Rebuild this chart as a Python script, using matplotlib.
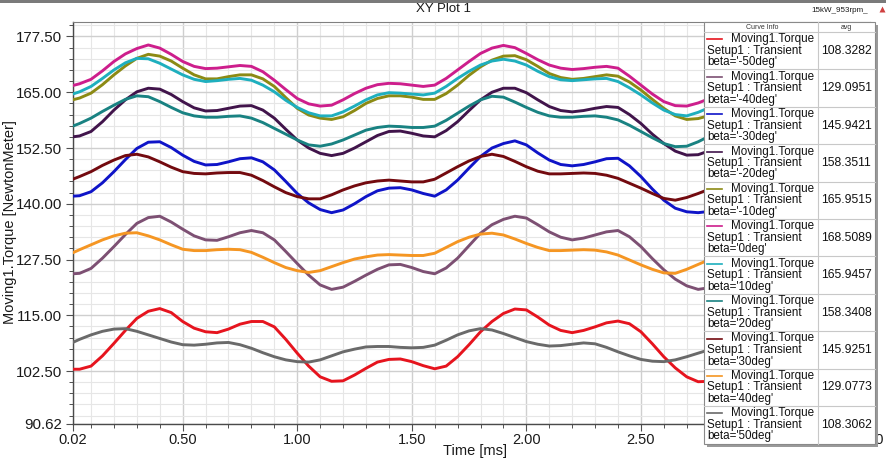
import matplotlib
matplotlib.use("Agg")
import matplotlib.pyplot as plt
from matplotlib.patches import Rectangle
from matplotlib.ticker import MultipleLocator

plt.rcParams['font.family'] = ['Liberation Sans', 'DejaVu Sans']

# ---------------- data ----------------
time_ms = [0.02, 0.05, 0.10, 0.15, 0.20, 0.25, 0.30, 0.35, 0.40, 0.45,
           0.50, 0.55, 0.60, 0.65, 0.70, 0.75, 0.80, 0.85, 0.90, 0.95,
           1.00, 1.05, 1.10, 1.15, 1.20, 1.25, 1.30, 1.35, 1.40, 1.45,
           1.50, 1.55, 1.60, 1.65, 1.70, 1.75, 1.80, 1.85, 1.90, 1.95,
           2.00, 2.05, 2.10, 2.15, 2.20, 2.25, 2.30, 2.35, 2.40, 2.45,
           2.50, 2.55, 2.60, 2.65, 2.70, 2.75, 2.80]

torque_m50 = [102.9, 102.9, 103.6, 105.9, 108.7, 111.6, 114.3, 115.9, 116.5, 115.6,
              113.6, 112.1, 111.3, 111.1, 111.9, 113.0, 113.6, 113.6, 112.4, 109.6,
              106.5, 103.6, 101.2, 100.2, 100.3, 101.6, 103.1, 104.5, 105.1, 105.2,
              104.6, 103.7, 103.0, 103.6, 105.7, 108.4, 111.3, 113.6, 115.4, 116.4,
              116.2, 114.6, 112.8, 111.6, 111.1, 111.6, 112.4, 113.3, 113.7, 113.1,
              111.3, 108.6, 105.7, 103.2, 101.2, 100.1, 100.2]
torque_m40 = [124.3, 124.4, 125.5, 127.8, 130.4, 133.1, 135.6, 136.9, 137.2, 135.9,
              134.3, 132.8, 131.9, 131.8, 132.6, 133.5, 134.0, 133.5, 131.9, 129.3,
              126.6, 124.0, 121.8, 120.8, 121.3, 122.6, 124.0, 125.3, 126.3, 126.4,
              125.7, 124.8, 124.3, 125.6, 127.8, 130.6, 133.4, 135.3, 136.5, 137.2,
              136.8, 135.3, 133.7, 132.5, 131.9, 132.3, 133.0, 133.7, 134.0, 132.6,
              130.4, 127.7, 125.2, 123.1, 121.6, 120.8, 121.2]
torque_m30 = [141.7, 141.8, 142.7, 144.7, 147.2, 149.9, 152.4, 153.8, 153.9, 152.6,
              150.9, 149.5, 148.7, 148.8, 149.4, 150.1, 150.3, 149.4, 147.6, 145.0,
              142.3, 140.2, 138.7, 138.0, 138.6, 140.0, 141.6, 142.9, 143.5, 143.6,
              143.1, 142.3, 141.7, 143.1, 145.3, 148.0, 150.6, 152.5, 153.5, 154.1,
              153.2, 151.4, 149.8, 148.8, 148.5, 148.8, 149.4, 150.1, 150.2, 148.5,
              146.1, 143.3, 140.8, 139.0, 138.2, 138.0, 138.3]
torque_m20 = [155.0, 155.2, 156.2, 158.4, 161.0, 163.3, 165.1, 165.9, 165.7, 164.5,
              162.9, 161.5, 160.8, 160.9, 161.4, 161.9, 162.0, 161.0, 159.2, 156.7,
              154.3, 152.5, 151.3, 150.8, 151.3, 152.5, 153.9, 155.3, 156.2, 156.3,
              155.8, 155.2, 155.0, 156.4, 158.4, 160.9, 163.3, 165.0, 165.9, 165.9,
              164.9, 163.3, 161.8, 160.9, 160.6, 160.9, 161.4, 161.8, 161.6, 160.0,
              158.0, 155.6, 153.5, 151.8, 150.9, 151.0, 151.9]
torque_m10 = [163.3, 163.7, 164.8, 166.7, 168.9, 170.9, 172.6, 173.5, 173.1, 172.0,
              170.4, 168.9, 168.0, 168.0, 168.5, 168.9, 168.9, 168.0, 166.3, 163.8,
              161.4, 159.9, 159.2, 158.9, 159.5, 160.9, 162.5, 163.6, 164.2, 164.2,
              163.9, 163.4, 163.4, 164.7, 166.6, 168.8, 170.7, 172.2, 173.1, 173.2,
              172.3, 170.8, 169.2, 168.3, 167.9, 168.1, 168.5, 168.9, 168.6, 167.3,
              165.5, 163.4, 161.4, 159.7, 158.9, 159.1, 159.8]
torque_0 = [166.5, 166.9, 167.9, 169.8, 171.9, 173.6, 174.8, 175.6, 174.9, 173.5,
            171.9, 170.8, 170.3, 170.4, 170.7, 171.0, 170.8, 169.6, 167.7, 165.6,
            163.6, 162.4, 161.9, 162.1, 163.3, 164.7, 165.9, 166.7, 167.0, 166.9,
            166.6, 166.3, 166.6, 168.1, 170.0, 171.9, 173.7, 174.9, 175.5, 175.0,
            173.7, 172.3, 171.1, 170.4, 170.1, 170.3, 170.6, 170.8, 170.4, 168.6,
            166.6, 164.6, 162.9, 162.0, 161.9, 162.6, 163.6]
torque_p10 = [164.6, 165.1, 166.3, 168.1, 170.0, 171.6, 172.6, 172.5, 171.5, 170.2,
              168.9, 167.9, 167.4, 167.6, 167.9, 168.1, 167.7, 166.6, 165.1, 163.2,
              161.6, 160.4, 159.7, 159.7, 160.6, 161.9, 163.3, 164.4, 164.9, 164.8,
              164.6, 164.4, 164.8, 166.3, 168.1, 169.7, 171.1, 172.0, 172.4, 172.0,
              171.1, 169.7, 168.5, 167.8, 167.6, 167.8, 168.0, 168.1, 167.4, 166.0,
              164.4, 162.6, 161.0, 160.0, 159.7, 160.5, 161.6]
torque_p20 = [157.4, 158.0, 159.2, 160.7, 162.1, 163.4, 164.2, 164.0, 162.9, 161.6,
              160.4, 159.7, 159.4, 159.4, 159.6, 159.7, 159.2, 158.2, 156.9, 155.6,
              154.3, 153.2, 152.9, 153.4, 154.3, 155.4, 156.5, 157.1, 157.4, 157.3,
              157.1, 157.1, 157.4, 158.7, 160.3, 161.9, 163.3, 164.1, 163.9, 162.8,
              161.6, 160.5, 159.7, 159.4, 159.4, 159.6, 159.7, 159.4, 158.8, 157.6,
              156.2, 154.8, 153.5, 152.8, 152.9, 153.9, 155.2]
torque_p30 = [145.5, 146.1, 147.2, 148.6, 149.8, 150.8, 151.1, 150.5, 149.4, 148.2,
              147.2, 146.8, 146.7, 146.9, 147.0, 147.0, 146.4, 145.2, 143.8, 142.5,
              141.6, 141.1, 141.1, 142.0, 143.1, 144.0, 144.7, 145.1, 145.3, 145.1,
              144.9, 144.9, 145.5, 146.9, 148.3, 149.6, 150.6, 151.1, 150.6, 149.5,
              148.3, 147.3, 146.7, 146.7, 146.8, 146.9, 146.8, 146.4, 145.7, 144.6,
              143.5, 142.3, 141.2, 140.8, 141.4, 142.3, 143.3]
torque_p40 = [129.0, 129.7, 130.8, 131.9, 132.8, 133.4, 133.5, 132.8, 131.9, 130.8,
              129.8, 129.5, 129.5, 129.7, 129.8, 129.7, 129.1, 128.0, 126.8, 125.7,
              125.0, 124.6, 125.0, 125.9, 126.8, 127.6, 128.1, 128.5, 128.6, 128.5,
              128.4, 128.4, 128.9, 130.2, 131.5, 132.5, 133.2, 133.4, 133.0, 132.1,
              131.1, 130.2, 129.5, 129.5, 129.6, 129.7, 129.6, 129.2, 128.5, 127.4,
              126.3, 125.3, 124.5, 124.4, 125.3, 126.4, 127.5]
torque_p50 = [108.9, 109.6, 110.6, 111.4, 111.9, 112.0, 111.4, 110.6, 109.8, 109.0,
              108.4, 108.3, 108.5, 108.8, 108.9, 108.4, 107.6, 106.6, 105.7, 105.0,
              104.6, 104.5, 105.0, 105.9, 106.8, 107.4, 107.9, 108.0, 108.0, 107.8,
              107.7, 107.8, 108.3, 109.4, 110.6, 111.5, 112.0, 111.7, 110.9, 110.0,
              109.1, 108.5, 108.1, 108.2, 108.5, 108.8, 108.6, 107.8, 106.8, 105.9,
              105.1, 104.7, 104.6, 105.0, 105.7, 106.5, 107.3]

beta_labels = ["-50", "-40", "-30", "-20", "-10", "0", "10", "20", "30", "40", "50"]
avg_values = ["108.3282", "129.0951", "145.9421", "158.3511", "165.9515", "168.5089",
              "165.9457", "158.3408", "145.9251", "129.0773", "108.3062"]

x_ticks = [0.02, 0.50, 1.00, 1.50, 2.00, 2.50, 3.00, 3.50]
x_tick_labels = ["0.02", "0.50", "1.00", "1.50", "2.00", "2.50", "", "3.50"]
y_ticks = [90.62, 102.50, 115.00, 127.50, 140.00, 152.50, 165.00, 177.50]

series = [torque_m50, torque_m40, torque_m30, torque_m20, torque_m10, torque_0,
          torque_p10, torque_p20, torque_p30, torque_p40, torque_p50]
colors = ['#e6141e', '#7d5073', '#0f14c8', '#41144b', '#8c8a14', '#cd1e8c',
          '#1eafbe', '#198282', '#730a0f', '#f59623', '#6a6a6a']

# ---------------- figure ----------------
W, H = 886, 463
fig = plt.figure(figsize=(W / 100, H / 100), dpi=100)
fig.patch.set_facecolor('white')

L, R, T, B = 72.7, 870.0, 22.0, 424.0
ax = fig.add_axes([L / W, 1 - B / H, (R - L) / W, (B - T) / H])

for s, c in zip(series, colors):
    ax.plot(time_ms, s, color=c, lw=2.1, solid_joinstyle='round',
            solid_capstyle='round', zorder=3)

ax.set_xlim(0.02, 3.5)
ax.set_ylim(90.62, 180.75)
ax.set_xticks(x_ticks)
ax.set_xticklabels(x_tick_labels)
ax.set_yticks(y_ticks)
ax.set_yticklabels([f"{v:.2f}" for v in y_ticks])
ax.xaxis.set_minor_locator(MultipleLocator(0.1))
ax.yaxis.set_minor_locator(MultipleLocator(2.5))

ax.grid(which='minor', color='#e6e6e6', lw=0.8, zorder=0)
ax.grid(which='major', color='#cfcfcf', lw=1.0, zorder=0)
ax.set_axisbelow(True)

ax.tick_params(which='major', direction='out', length=5, width=0.8, color='#505050',
               labelsize=10.8, labelcolor='#1a1a1a')
ax.tick_params(axis='y', which='major', pad=2.5)
ax.tick_params(axis='x', which='major', pad=1.5, labelsize=10.5)
ax.tick_params(which='minor', direction='out', length=3, width=0.7, color='#505050')

for side in ['left', 'bottom']:
    ax.spines[side].set_color('#4a4a4a')
    ax.spines[side].set_linewidth(1.0)
ax.spines['top'].set_color('#808080')
ax.spines['top'].set_linewidth(0.8)
ax.spines['right'].set_color('#808080')
ax.spines['right'].set_linewidth(0.8)

fig.text(475 / W, 1 - 451 / H, "Time [ms]", ha='center', va='center', fontsize=10.5,
         color='#1a1a1a')
fig.text(10 / W, 1 - 222 / H, "Moving1.Torque [NewtonMeter]", ha='center', va='center',
         rotation=90, fontsize=10.5, color='#1a1a1a')
fig.text(444 / W, 1 - 9.5 / H, "XY Plot 1", ha='center', va='center', fontsize=9.5,
         color='#1a1a1a')
fig.text(840 / W, 1 - 10 / H, "15kW_953rpm_", ha='center', va='center', fontsize=5.8,
         color='#1a1a1a')

# ---------------- overlay (legend table, window frame) ----------------
ov = fig.add_axes([0, 0, 1, 1])
ov.set_xlim(0, W)
ov.set_ylim(H, 0)
ov.axis('off')
ov.patch.set_visible(False)

ov.add_patch(Rectangle((0, 0), W, 2.5, color='#7a7a7a', lw=0))
ov.plot([882], [8.5], marker='^', ms=4, color='#d04040', mec='none')

box_l, box_r, box_t, box_b = 704.0, 875.0, 22.0, 443.5
ov.add_patch(Rectangle((box_l + 3, box_t + 3), box_r - box_l, box_b - box_t,
                       color='#9a9a9a', lw=0, zorder=1))
ov.add_patch(Rectangle((box_l, box_t), box_r - box_l, box_b - box_t,
                       fc='white', ec='#8a8a8a', lw=0.8, zorder=2))
col_x = 818.0
ov.plot([col_x, col_x], [box_t, box_b], color='#c8c8c8', lw=0.8, zorder=3)
ov.text(762, 27.2, "Curve Info", ha='center', va='center', fontsize=5, color='#333333',
        zorder=4)
ov.text(846.5, 27.2, "avg", ha='center', va='center', fontsize=5, color='#333333',
        zorder=4)

row_top0, row_h = 32.0, 37.4
for i, (b, v, c) in enumerate(zip(beta_labels, avg_values, colors)):
    top = row_top0 + row_h * i
    ov.plot([box_l, box_r], [top, top], color='#c8c8c8', lw=0.8, zorder=3)
    ov.plot([707, 722], [top + 7.3, top + 7.3], color=c, lw=1.2, zorder=4)
    ov.text(731, top + 7.3, "Moving1.Torque", va='center', fontsize=8.4,
            color='#111111', zorder=4)
    ov.text(707.5, top + 18.8, "Setup1 : Transient", va='center', fontsize=8.4,
            color='#111111', zorder=4)
    ov.text(707.5, top + 30.3, f"beta='{b}deg'", va='center', fontsize=8.4,
            color='#111111', zorder=4)
    ov.text(846.5, top + 18.8, v, ha='center', va='center', fontsize=8.8,
            color='#111111', zorder=4)

fig.savefig("out.png", dpi=100, facecolor='white')
